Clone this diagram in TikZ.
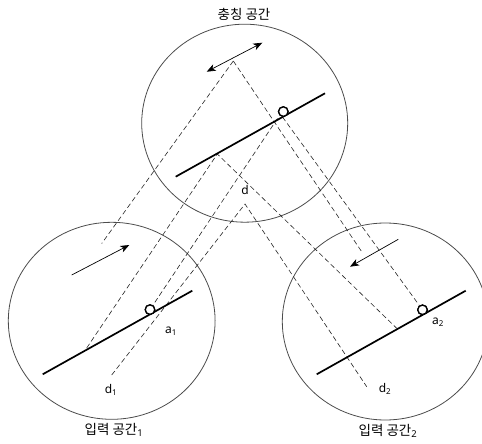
\documentclass[tikz,border=0pt]{standalone}
\usepackage{fontspec}
\setmainfont{Noto Sans}
\newfontfamily\krfont{Noto Sans CJK KR}
\usetikzlibrary{arrows.meta}
\begin{document}
\begin{tikzpicture}[x=1pt,y=-1pt,
  space/.style={draw=black!70, line width=0.8pt},
  bar/.style={line width=1.7pt},
  proj/.style={line width=0.6pt, dash pattern=on 5pt off 3pt, black!85},
  dot/.style={circle, draw, line width=1.3pt, fill=white, minimum size=9.5pt, inner sep=0pt},
  lab/.style={font=\fontsize{12}{14}\selectfont, inner sep=0pt},
  ttl/.style={font=\fontsize{13.5}{16}\selectfont, inner sep=0pt},
  mv/.style={line width=0.7pt, -{Stealth[length=9pt,width=7pt,inset=2.5pt]}},
  mvb/.style={line width=0.7pt, {Stealth[length=9pt,width=7pt,inset=2.5pt]}-{Stealth[length=9pt,width=7pt,inset=2.5pt]}},
]
\useasboundingbox (0,0) rectangle (482,444);
% spaces
\draw[space] (244.7,123.2) ellipse [x radius=103, y radius=99];
\draw[space] (111.7,320.8) ellipse [x radius=103.4, y radius=98.5];
\draw[space] (385.3,321.5) ellipse [x radius=103, y radius=98.5];
% key points
\coordinate (apex) at (233.3,61);
\coordinate (aL) at (101.7,243.5);
\coordinate (aR) at (361.7,251.7);
\coordinate (eL) at (86.7,348);
\coordinate (eB) at (217.3,154);
\coordinate (eR) at (396.7,328.3);
\coordinate (cB1) at (277.5,118.5);
\coordinate (cB2) at (282.5,117);
\coordinate (pk) at (245,204);
\coordinate (d1e) at (111.7,375);
\coordinate (d2e) at (366.7,386.7);
% dots
\node[dot] (a1) at (150,309.6) {};
\node[dot] (a2) at (422.5,309.8) {};
\node[dot] (ab) at (283.3,111.6) {};
% projections
\draw[proj] (apex) -- (aL);
\draw[proj] (apex) -- (aR);
\draw[proj] (eL) -- (eB) -- (eR);
\draw[proj] (cB1) -- (a1);
\draw[proj] (cB2) -- (a2);
\draw[proj] (d1e) -- (pk) -- (d2e);
% bars
\coordinate (tb1) at (175.7,176.7); \coordinate (tb2) at (325,93.3);
\coordinate (lb1) at (42.7,374.3); \coordinate (lb2) at (192.3,290.7);
\coordinate (rb1) at (316.7,374.3); \coordinate (rb2) at (465.7,290.7);
\draw[bar] (tb1) -- (tb2);
\draw[bar] (lb1) -- (lb2);
\draw[bar] (rb1) -- (rb2);
% dots on top
\node[dot] at (a1) {};
\node[dot] at (a2) {};
\node[dot] at (ab) {};
% arrows
\coordinate (m1s) at (71.7,275); \coordinate (m1e) at (129.3,245);
\coordinate (m2s) at (398.3,239.3); \coordinate (m2e) at (350,266.7);
\coordinate (mbs) at (206.7,71.7); \coordinate (mbe) at (262.3,42.7);
\draw[mv] (m1s) -- (m1e);
\draw[mv] (m2s) -- (m2e);
\draw[mvb] (mbs) -- (mbe);
% labels
\node[lab] (ld) at (245,190) {d};
\node[lab] (la1) at (171,331) {a\textsubscript{1}};
\node[lab] (la2) at (438,322) {a\textsubscript{2}};
\node[lab] (ld1) at (111,390) {d\textsubscript{1}};
\node[lab] (ld2) at (385,389) {d\textsubscript{2}};
\node[ttl] (tb) at (244,14) {\krfont 충칭 공간};
\node[ttl] (t1) at (114,430) {{\krfont 입력 공간}\textsubscript{1}};
\node[ttl] (t2) at (388,431) {{\krfont 입력 공간}\textsubscript{2}};
\end{tikzpicture}
\end{document}
